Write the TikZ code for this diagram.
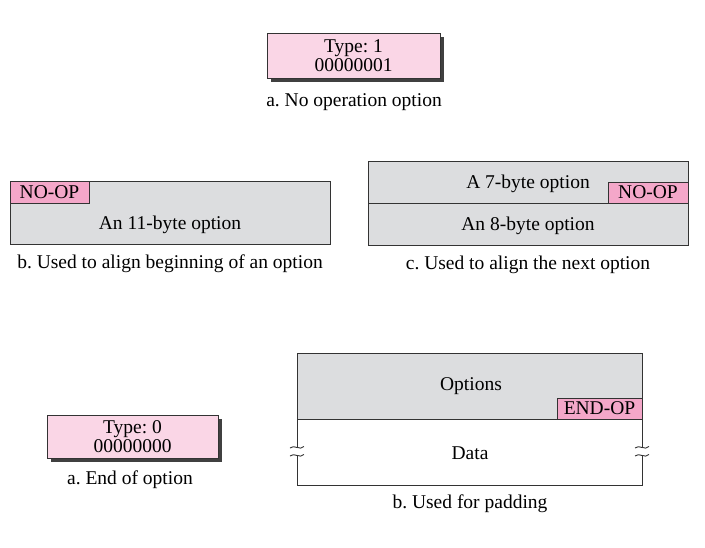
\documentclass[tikz,border=0pt]{standalone}
\usepackage{fontspec}
\setmainfont{Liberation Serif}
\frenchspacing
\usetikzlibrary{shadows,calc}
\definecolor{lpink}{HTML}{FAD6E6}
\definecolor{dpink}{HTML}{F4A7C9}
\definecolor{lgray}{HTML}{DCDDDF}
\definecolor{edge}{HTML}{333333}
\begin{document}
\begin{tikzpicture}[x=1pt,y=-1pt,
  every node/.style={inner sep=0pt,outer sep=0pt,font=\fontsize{19.5}{17.5}\selectfont},
  box/.style={draw=edge,line width=1pt},
  typebox/.style={box,fill=lpink,align=center,font=\fontsize{19.5}{19.5}\selectfont,drop shadow={fill=black!75,opacity=1,shadow xshift=4pt,shadow yshift=-4pt}},
  optbox/.style={box,fill=lgray},
  opbox/.style={box,fill=dpink},
  txt/.style={yshift=-1.5pt}
]
\useasboundingbox (0,0) rectangle (705,547);
% a. No operation option
\node[typebox,minimum width=173pt,minimum height=45pt] (t1) at (353.5,55.5) {Type: 1\\00000001};
\node[txt] (cap1) at (354,101) {a. No operation option};
% b.
\node[optbox,minimum width=320pt,minimum height=63pt] (b) at (170,212.5) {};
\node[opbox,minimum width=79pt,minimum height=22pt] (bnop) at (49.5,192) {NO-OP};
\node[txt] (btext) at (170,223) {An 11-byte option};
\node[txt] (cap2) at (170,262) {b. Used to align beginning of an option};
% c.
\node[optbox,minimum width=320pt,minimum height=42pt] (c7) at (528,182) {};
\node[optbox,minimum width=320pt,minimum height=42pt] (c8) at (528,224) {};
\node[opbox,minimum width=80pt,minimum height=21pt] (cnop) at (648,192.5) {NO-OP};
\node[txt] (c7text) at (528,182) {A 7-byte option};
\node[txt] (c8text) at (528,224) {An 8-byte option};
\node[txt] (cap3) at (528,263) {c. Used to align the next option};
% bottom a.
\node[typebox,minimum width=171pt,minimum height=43pt] (t0) at (132.5,436.5) {Type: 0\\00000000};
\node[txt] (cap4) at (130,478) {a. End of option};
% bottom b.
\node[optbox,minimum width=345pt,minimum height=66pt] (opts) at (469.5,386) {};
\node[txt] (optstext) at (471,385) {Options};
\node[opbox,minimum width=85pt,minimum height=21pt] (endop) at (599.5,408.5) {END-OP};
\node[minimum width=345pt,minimum height=66pt] (data) at (469.5,452) {};
\node[txt] (datatext) at (470,452) {Data};
\draw[edge,line width=1pt] ($(data.north west)$) -- ($(data.west)+(0,-4)$);
\draw[edge,line width=1pt] ($(data.west)+(0,4)$) -- (data.south west) -- (data.south east) -- ($(data.east)+(0,4)$);
\draw[edge,line width=1pt] ($(data.north east)$) -- ($(data.east)+(0,-4)$);
\foreach \s in {data.west,data.east}{
  \foreach \d in {-4,4}{
    \draw[edge,line width=0.9pt] ($(\s)+(-7,\d)$) .. controls ($(\s)+(-3,\d-4)$) and ($(\s)+(3,\d+3)$) .. ($(\s)+(7,\d-1.5)$);
  }
}
\node[txt] (cap5) at (470,502) {b. Used for padding};
\end{tikzpicture}
\end{document}
